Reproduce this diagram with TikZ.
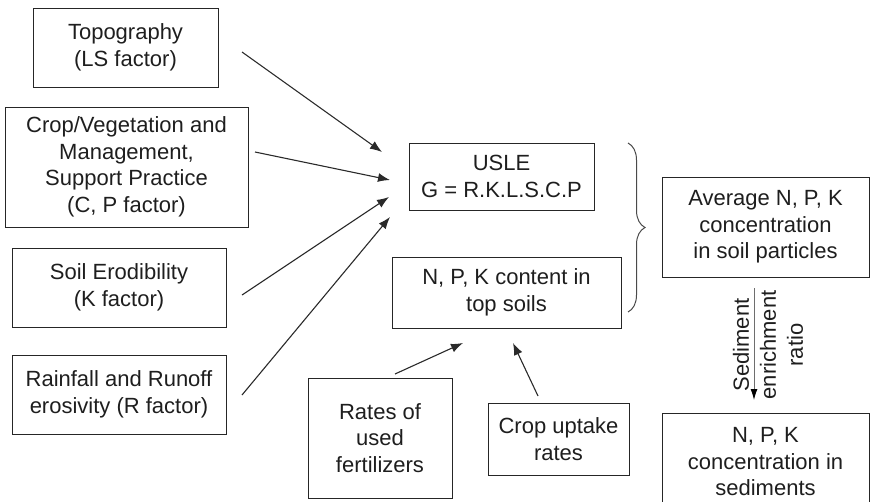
\documentclass[tikz,border=0pt]{standalone}
\usepackage{fontspec}
\setmainfont{Liberation Sans}
\usetikzlibrary{positioning,arrows.meta,decorations.pathreplacing}
\definecolor{colorbox}{HTML}{262626}
\definecolor{colortxt}{HTML}{1E1E1E}
\definecolor{colorin}{HTML}{2A2A2A}
\definecolor{colorser}{HTML}{6E6E6E}
\definecolor{colorbr}{HTML}{4A4A4A}
\tikzset{
  boxfac/.style={draw=colorbox, text=colortxt, line width=1pt, align=center, inner sep=0pt, font=\fontsize{22}{26.5}\selectfont},
  edgein/.style={colorin, line width=1.1pt, -{Latex[length=12pt,width=9pt]}},
  edgeser/.style={colorser, line width=0.9pt, -{Latex[length=11pt,width=7pt,black]}},
  bracenpk/.style={colorbr, line width=1pt, decorate, decoration={brace, amplitude=17pt}}
}

\begin{document}
\begin{tikzpicture}[x=1pt, y=-1pt]
\useasboundingbox (0,0) rectangle (870,501);
% factors of the USLE
\node[boxfac, minimum width=185pt, minimum height=79pt] (topo) at (125.5,47.5) {Topography\\(LS factor)};
\node[boxfac, minimum width=243pt, minimum height=120pt] (crop) at (126.5,167) {Crop/Vegetation and\\Management,\\Support Practice\\(C, P factor)};
\node[boxfac, minimum width=214pt, minimum height=79pt] (soil) at (119,287.5) {Soil Erodibility\\(K factor)};
\node[boxfac, minimum width=214pt, minimum height=79pt] (rain) at (119,394.5) {Rainfall and Runoff\\erosivity (R factor)};
% middle column
\node[boxfac, minimum width=185pt, minimum height=67pt] (usle) at (501.5,176.5) {USLE\\G = R.K.L.S.C.P};
\node[boxfac, minimum width=229pt, minimum height=71pt] (npk) at (506.5,292.5) {N, P, K content in\\top soils};
\node[boxfac, minimum width=144pt, minimum height=120pt] (fert) at (380,438) {Rates of\\used\\fertilizers};
\node[boxfac, minimum width=141pt, minimum height=72pt] (upt) at (558.5,439) {Crop uptake\\rates};
% right column
\node[boxfac, minimum width=207pt, minimum height=100pt] (avg) at (765.5,227) {Average N, P, K\\concentration\\in soil particles};
\node[boxfac, minimum width=207pt, minimum height=98pt] (sed) at (765.5,462) {N, P, K\\concentration in\\sediments};
\node[align=center, rotate=90, inner sep=0pt, text=colortxt, font=\fontsize{22}{27}\selectfont] (ser) at (768,345) {Sediment\\enrichment\\ratio};

\coordinate (ta) at (242,52);   \coordinate (tb) at (382,152);
\coordinate (ca) at (255,152);  \coordinate (cb) at (390,180);
\coordinate (sa) at (242,295);  \coordinate (sb) at (389,197);
\coordinate (ra) at (242,395);  \coordinate (rb) at (390,217);
\coordinate (fa) at (395,374);  \coordinate (fb) at (463,343);
\coordinate (ua) at (538,396);  \coordinate (ub) at (513,343);
\coordinate (ea) at (754,288);  \coordinate (eb) at (754,400);
\coordinate (ba) at (628,143);  \coordinate (bb) at (628,312);

\draw[edgein] (ta) -- (tb);
\draw[edgein] (ca) -- (cb);
\draw[edgein] (sa) -- (sb);
\draw[edgein] (ra) -- (rb);
\draw[edgein] (fa) -- (fb);
\draw[edgein] (ua) -- (ub);
\draw[edgeser] (ea) -- (eb);
\draw[bracenpk] (ba) -- (bb);
\end{tikzpicture}
\end{document}
